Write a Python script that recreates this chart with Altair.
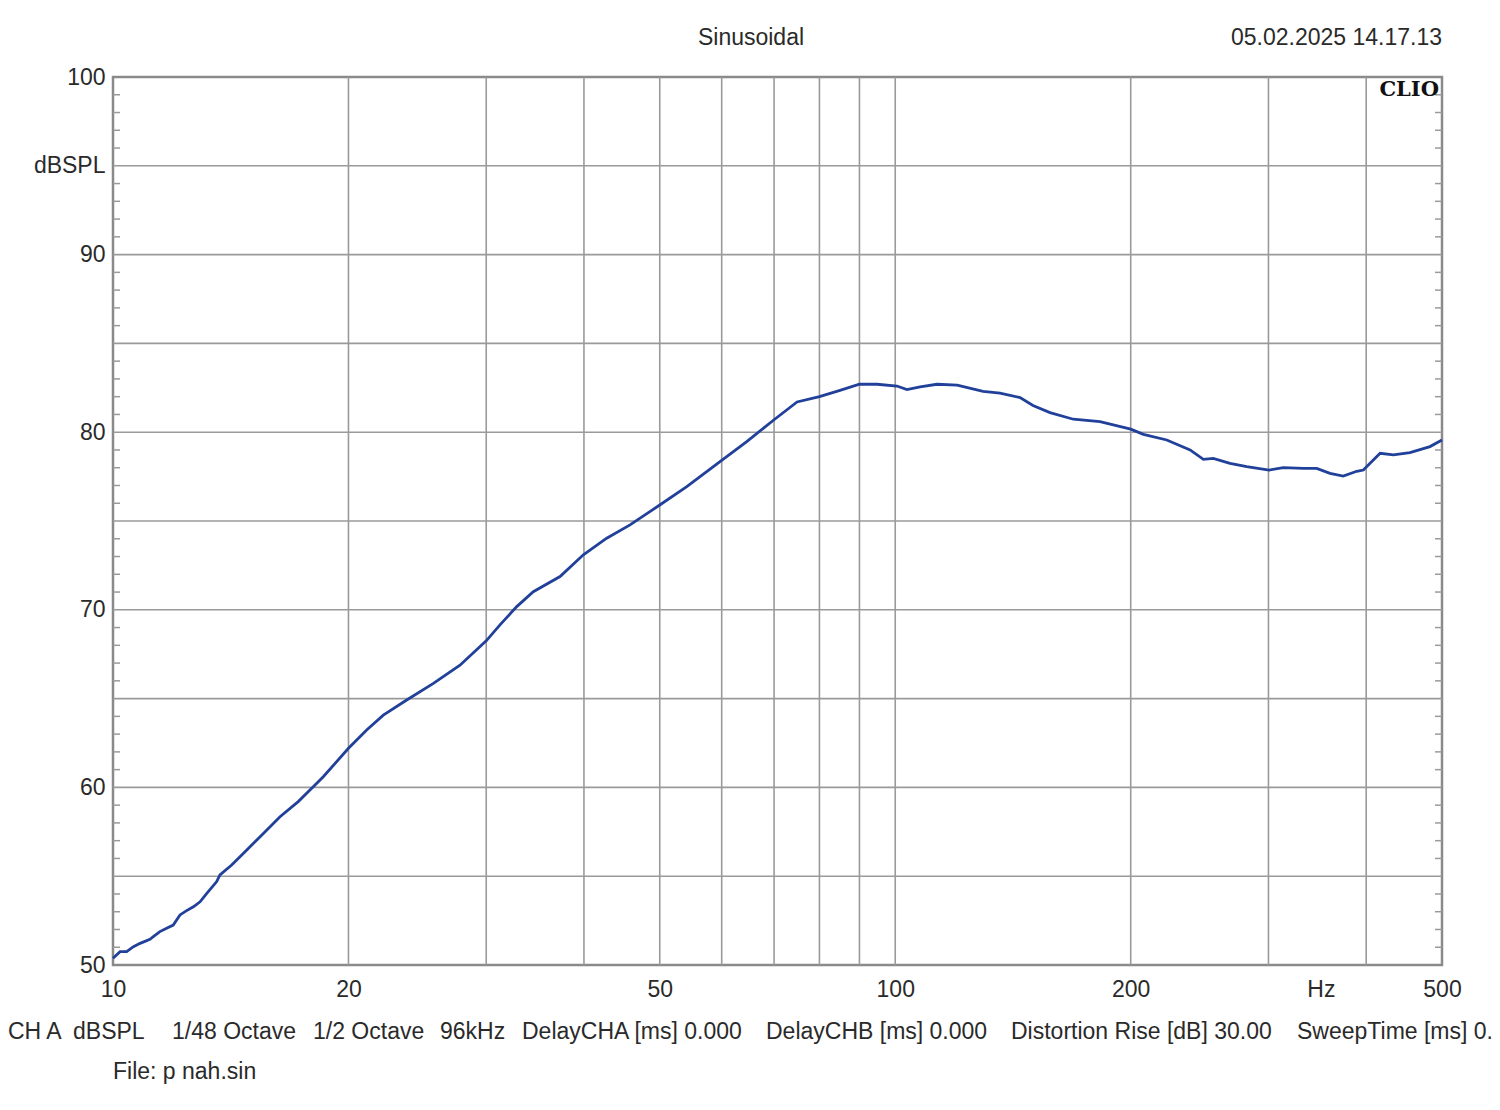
import altair as alt
import pandas as pd

# ---- curve data ----
freq_hz = [10.0, 10.21, 10.41, 10.62, 10.83, 11.15, 11.26, 11.48, 11.71, 11.94,
           12.18, 12.42, 12.67, 12.92, 13.18, 13.57, 13.70, 14.18, 14.75, 15.50,
           16.35, 17.25, 17.95, 18.57, 20.0, 21.10, 22.16, 23.74, 25.68, 27.77,
           30.0, 31.24, 32.82, 34.46, 37.28, 39.93, 42.77, 45.81, 50.0, 54.14,
           59.70, 64.59, 70.0, 74.9, 80.0, 85.0, 90.0, 94.8, 100.5, 103.5,
           107.6, 113.1, 120.0, 129.5, 136.1, 144.4, 150.0, 157.7, 168.9, 182.7,
           200.0, 207.6, 222.4, 238.2, 247.7, 255.0, 267.9, 281.4, 300.5, 313.4,
           332.4, 345.8, 359.6, 373.9, 389.0, 396.7, 404.6, 416.7, 433.3, 455.0,
           482.6, 500.0]
spl_db = [50.38, 50.75, 50.75, 51.03, 51.22, 51.45, 51.60, 51.88, 52.07, 52.25,
          52.82, 53.06, 53.28, 53.56, 54.03, 54.70, 55.07, 55.63, 56.38, 57.32,
          58.35, 59.20, 59.95, 60.60, 62.20, 63.23, 64.07, 64.92, 65.86, 66.88,
          68.25, 69.15, 70.18, 71.02, 71.87, 73.10, 74.03, 74.78, 75.90, 76.93,
          78.34, 79.47, 80.70, 81.70, 82.00, 82.35, 82.70, 82.70, 82.60, 82.40,
          82.55, 82.70, 82.65, 82.30, 82.20, 81.95, 81.50, 81.10, 80.73, 80.60,
          80.17, 79.88, 79.56, 79.00, 78.47, 78.53, 78.25, 78.06, 77.87, 78.00,
          77.96, 77.96, 77.68, 77.53, 77.80, 77.87, 78.25, 78.81, 78.72, 78.85,
          79.19, 79.56]

# ---- axes / grid ----
x_grid = [20, 30, 40, 50, 60, 70, 80, 90, 100, 200, 300, 400]
y_grid = [55, 60, 65, 70, 75, 80, 85, 90, 95]
y_minor = [v for v in range(51, 100) if v % 5 != 0]
x_label_values = [10, 20, 50, 100, 200, 350, 500]
y_label_values = [50, 60, 70, 80, 90, 95, 100]

title_text = "Sinusoidal"
date_text = "05.02.2025 14.17.13"
brand_text = "CLIO"
footer_items = ["CH A", "dBSPL", "1/48 Octave", "1/2 Octave", "96kHz",
                "DelayCHA [ms] 0.000", "DelayCHB [ms] 0.000",
                "Distortion Rise [dB] 30.00", "SweepTime [ms] 0.000"]
file_text = "File: p nah.sin"

W, H = 1329, 888
FONT = "Liberation Sans"
FS = 23
TXT = "#2a2a2a"
GRID = "#9a9a9a"
LINE = "#21409a"

xscale = alt.Scale(type="log", domain=[10, 500], nice=False)
yscale = alt.Scale(domain=[50, 100], nice=False, zero=False)

x_axis = alt.Axis(
    title=None, values=x_label_values, grid=False, ticks=False, tickSize=0,
    domain=False, labelFont=FONT, labelFontSize=FS, labelColor=TXT,
    labelPadding=13, labelFlush=False, labelOverlap=False, labelBound=False,
    labelExpr="datum.value == 350 ? 'Hz' : format(datum.value, 'd')")
y_axis = alt.Axis(
    title=None, values=y_label_values, grid=False, ticks=False, tickSize=0,
    domain=False, labelFont=FONT, labelFontSize=FS, labelColor=TXT,
    labelPadding=8, labelOverlap=False, labelBound=False, labelFlush=False,
    labelExpr="datum.value == 95 ? 'dBSPL' : format(datum.value, 'd')")

curve = pd.DataFrame({"f": freq_hz, "db": spl_db})

line = alt.Chart(curve).mark_line(color=LINE, strokeWidth=2.8).encode(
    x=alt.X("f:Q", scale=xscale, axis=x_axis),
    y=alt.Y("db:Q", scale=yscale, axis=y_axis),
)

vgrid = alt.Chart(pd.DataFrame({"f": x_grid})).mark_rule(
    color=GRID, strokeWidth=1.6).encode(
    x=alt.X("f:Q", scale=xscale, axis=x_axis))
hgrid = alt.Chart(pd.DataFrame({"db": y_grid})).mark_rule(
    color=GRID, strokeWidth=1.6).encode(
    y=alt.Y("db:Q", scale=yscale, axis=y_axis))

minor_df = pd.DataFrame({"db": y_minor})
ticks_left = alt.Chart(minor_df).mark_rule(color=GRID, strokeWidth=1.5).encode(
    y=alt.Y("db:Q", scale=yscale, axis=y_axis),
    x=alt.value(0), x2=alt.value(7))
ticks_right = alt.Chart(minor_df).mark_rule(color=GRID, strokeWidth=1.5).encode(
    y=alt.Y("db:Q", scale=yscale, axis=y_axis),
    x=alt.value(W - 7), x2=alt.value(W))


def label(text, x, y, align="left", size=FS, font=FONT, weight="normal", color=TXT):
    return alt.Chart(pd.DataFrame({"t": [text]})).mark_text(
        align=align, baseline="middle", font=font, fontSize=size,
        fontWeight=weight, color=color).encode(
        text="t:N", x=alt.value(x), y=alt.value(y))


texts = [
    label(title_text, 638, -39, align="center"),
    label(date_text, W, -39, align="right"),
    label(brand_text, W - 3, 13, align="right", size=21,
          font="DejaVu Serif", weight="bold", color="#111111"),
    label(file_text, 0, 995),
]
footer_x = [-105, -40, 59, 200, 327, 409, 653, 898, 1184]
for t, xx in zip(footer_items, footer_x):
    texts.append(label(t, xx, 955))

chart = alt.layer(vgrid, hgrid, ticks_left, ticks_right, line, *texts).properties(
    width=W, height=H,
    autosize=alt.AutoSizeParams(type="none"),
    padding={"left": 105, "top": 69, "right": 50, "bottom": 128},
    background="white",
).configure_view(stroke="#8a8a8a", strokeWidth=2.5)

chart.save("out.html", embed_options={"renderer": "svg", "actions": False})
